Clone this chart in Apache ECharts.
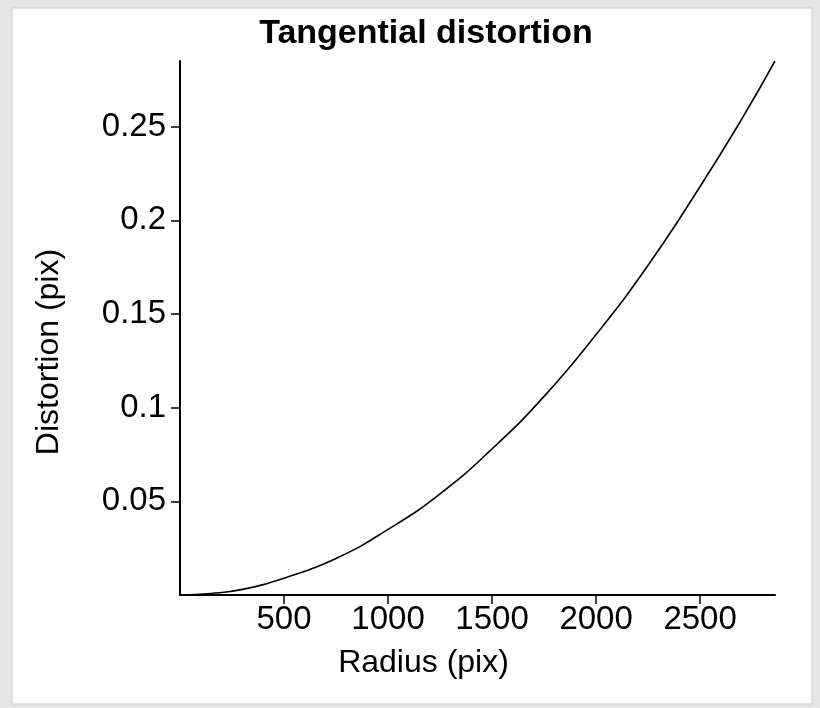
<!DOCTYPE html>
<html>
<head>
<meta charset="utf-8">
<script src="https://cdn.jsdelivr.net/npm/echarts@6/dist/echarts.min.js"></script>
<style>
html,body{margin:0;padding:0;background:#e6e6e6;}
#chart{width:820px;height:708px;}
</style>
</head>
<body>
<div id="chart"></div>
<script>
// Data
const radius = [0, 150, 300, 500, 750, 1000, 1250, 1500, 1750, 2000, 2250, 2500, 2700, 2860];
const distortion = [0, 0.0008, 0.003, 0.009, 0.0195, 0.035, 0.054, 0.078, 0.106, 0.139, 0.176, 0.218, 0.254, 0.285];
const xTicks = [500, 1000, 1500, 2000, 2500];
const yTicks = [0.05, 0.1, 0.15, 0.2, 0.25];

const FONT = '"Liberation Sans", Arial, Helvetica, sans-serif';
const chart = echarts.init(document.getElementById('chart'));
const points = radius.map((r, i) => [r, distortion[i]]);

chart.setOption({
  backgroundColor: '#e6e6e6',
  animation: false,
  graphic: [{
    type: 'rect',
    shape: {x: 12, y: 8, width: 800, height: 696},
    style: {fill: '#ffffff', stroke: '#cfcfcf', lineWidth: 1},
    z: -10
  }],
  title: {
    text: 'Tangential distortion',
    left: 421,
    textAlign: 'center',
    top: 12,
    textStyle: {fontFamily: FONT, fontWeight: 'bold', fontSize: 34, color: '#000'}
  },
  grid: {left: 180, right: 45, top: 61, bottom: 113, containLabel: false},
  xAxis: {
    type: 'value',
    min: 0, max: 2860,
    name: 'Radius (pix)',
    nameLocation: 'middle',
    nameGap: 52,
    nameTextStyle: {fontFamily: FONT, fontSize: 32, color: '#000', padding: [0, 108, 0, 0]},
    axisLine: {show: true, onZero: false, lineStyle: {color: '#000', width: 2}},
    axisTick: {show: true, length: 9, inside: false, customValues: xTicks, lineStyle: {color: '#000', width: 1.5}},
    axisLabel: {customValues: xTicks, formatter: v => String(v), fontFamily: FONT, fontSize: 33, color: '#000', margin: 8},
    splitLine: {show: false}
  },
  yAxis: {
    type: 'value',
    min: 0, max: 0.285,
    name: 'Distortion (pix)',
    nameLocation: 'middle',
    nameGap: 115,
    nameTextStyle: {fontFamily: FONT, fontSize: 32, color: '#000', padding: [0, 48, 0, 0]},
    axisLine: {show: true, onZero: false, lineStyle: {color: '#000', width: 2}},
    axisTick: {show: true, length: 9, inside: false, customValues: yTicks, lineStyle: {color: '#000', width: 1.5}},
    axisLabel: {customValues: yTicks, formatter: v => String(v), fontFamily: FONT, fontSize: 33, color: '#000', margin: 14},
    splitLine: {show: false}
  },
  series: [{
    type: 'line',
    data: points,
    smooth: true,
    showSymbol: false,
    lineStyle: {color: '#000', width: 1.6}
  }]
});
</script>
</body>
</html>
